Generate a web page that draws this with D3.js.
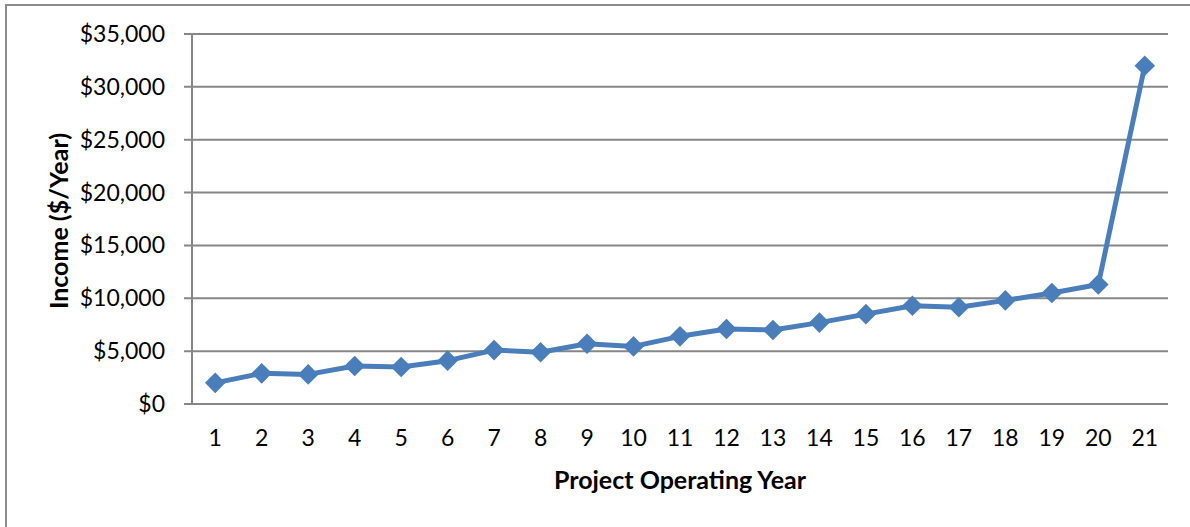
<!DOCTYPE html>
<html>
<head>
<meta charset="utf-8">
<script src="https://cdn.jsdelivr.net/npm/d3@7"></script>
<style>
  html, body { margin: 0; padding: 0; background: #fff; }
  svg { display: block; }
  text { font-family: Lato, "Open Sans", sans-serif; fill: #000; }
</style>
</head>
<body>
<svg id="chart" width="1190" height="527"></svg>
<script>
// Project operating years (x categories)
const years = ["1","2","3","4","5","6","7","8","9","10","11","12","13","14","15","16","17","18","19","20","21"];
// Annual income in dollars
const income = [2000, 2900, 2800, 3600, 3500, 4100, 5100, 4900, 5700, 5450, 6400, 7100, 7000, 7700, 8500, 9300, 9150, 9800, 10500, 11300, 32000];
// Y-axis ticks
const yTicks = [0, 5000, 10000, 15000, 20000, 25000, 30000, 35000];

const svg = d3.select("#chart");
const W = 1190, H = 527;
const margin = { left: 192, right: 22, top: 34, bottom: 123 };
const plotW = W - margin.left - margin.right;
const plotH = H - margin.top - margin.bottom;

// Chart frame
svg.append("rect")
  .attr("x", 6).attr("y", 5)
  .attr("width", W + 10).attr("height", H + 10)
  .attr("fill", "none").attr("stroke", "#8c8c8c").attr("stroke-width", 2);

const g = svg.append("g").attr("transform", `translate(${margin.left},${margin.top})`);

const x = d3.scaleBand().domain(years).range([0, plotW]).padding(0);
const y = d3.scaleLinear().domain([0, 35000]).range([plotH, 0]);

// Horizontal gridlines (with outward tick stubs)
g.append("g").selectAll("line").data(yTicks).join("line")
  .attr("x1", -8).attr("x2", plotW)
  .attr("y1", d => y(d)).attr("y2", d => y(d))
  .attr("stroke", "#868686").attr("stroke-width", 2);

// Vertical axis line
g.append("line")
  .attr("x1", 0).attr("x2", 0).attr("y1", 0).attr("y2", plotH)
  .attr("stroke", "#868686").attr("stroke-width", 2);

// Y tick labels
const fmt = d3.format(",");
g.append("g").selectAll("text").data(yTicks).join("text")
  .attr("x", -27).attr("y", d => y(d))
  .attr("dy", "0.35em")
  .attr("text-anchor", "end")
  .attr("font-size", 23)
  .text(d => "$" + fmt(d));

// X tick labels
g.append("g").selectAll("text").data(years).join("text")
  .attr("x", d => x(d) + x.bandwidth() / 2)
  .attr("y", plotH + 34)
  .attr("dy", "0.35em")
  .attr("text-anchor", "middle")
  .attr("font-size", 23)
  .text(d => d);

// Axis titles
svg.append("text")
  .attr("x", margin.left + plotW / 2)
  .attr("y", 480)
  .attr("dy", "0.35em")
  .attr("text-anchor", "middle")
  .attr("font-size", 25).attr("font-weight", "bold")
  .text("Project Operating Year");

svg.append("text")
  .attr("transform", `translate(59,${margin.top + plotH / 2 + 2}) rotate(-90)`)
  .attr("dy", "0.35em")
  .attr("text-anchor", "middle")
  .attr("font-size", 25).attr("font-weight", "bold")
  .text("Income ($/Year)");

const color = "#4a7ebb";
const cx = (d, i) => x(years[i]) + x.bandwidth() / 2;

// Income line
const line = d3.line().x((d, i) => cx(d, i)).y(d => y(d));
g.append("path").datum(income)
  .attr("d", line)
  .attr("fill", "none").attr("stroke", color)
  .attr("stroke-width", 5).attr("stroke-linejoin", "round");

// Diamond markers
const diamond = d3.symbol().type(d3.symbolDiamond2).size(270);
g.append("g").selectAll("path").data(income).join("path")
  .attr("transform", (d, i) => `translate(${cx(d, i)},${y(d)})`)
  .attr("d", diamond)
  .attr("fill", color);
</script>
</body>
</html>
